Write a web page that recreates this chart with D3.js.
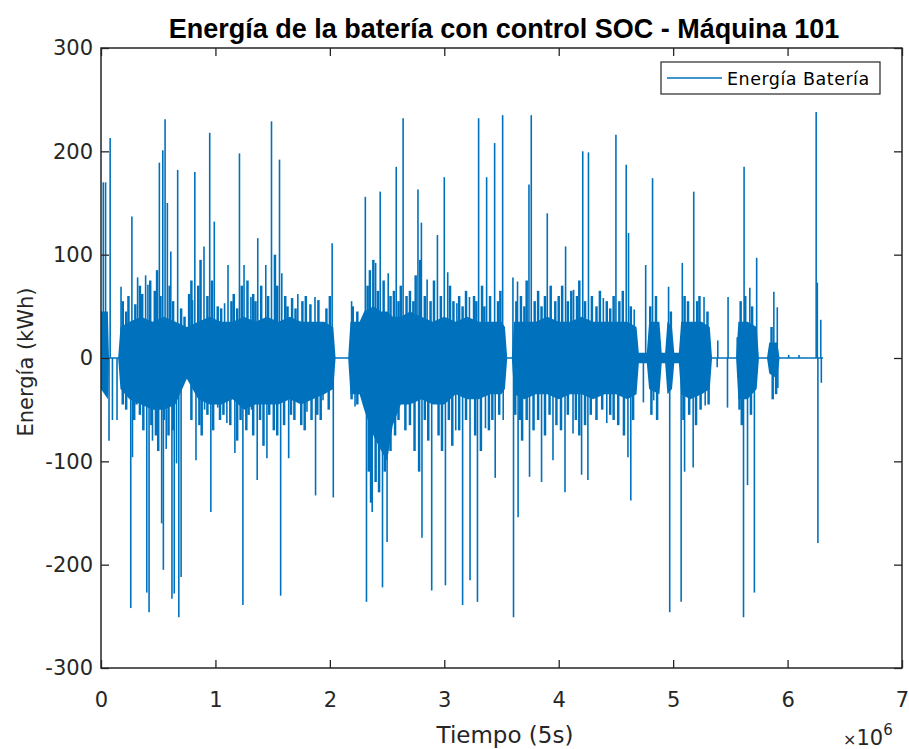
<!DOCTYPE html>
<html>
<head>
<meta charset="utf-8">
<script src="https://cdn.jsdelivr.net/npm/d3@7"></script>
<style>
  body { margin: 0; background: #fff; }
</style>
</head>
<body>
<div id="chart"></div>
<script>
// dense core of the signal: time (x10^6) with upper / lower envelope (kWh)
const bandT = [0.00, 0.06, 0.07, 0.15, 0.17, 0.25, 0.35, 0.45, 0.55, 0.65, 0.75, 0.85, 0.95, 1.05, 1.15, 1.25, 1.35, 1.45, 1.55, 1.65, 1.75, 1.85, 1.95, 2.03, 2.05, 2.16, 2.18, 2.26, 2.30, 2.38, 2.45, 2.50, 2.55, 2.62, 2.70, 2.80, 2.90, 3.00, 3.10, 3.20, 3.30, 3.40, 3.50, 3.53, 3.55, 3.59, 3.61, 3.70, 3.80, 3.90, 4.00, 4.10, 4.20, 4.30, 4.40, 4.50, 4.60, 4.68, 4.70, 4.77, 4.79, 4.88, 4.90, 4.93, 4.95, 4.99, 5.01, 5.05, 5.07, 5.15, 5.25, 5.32, 5.34, 5.55, 5.57, 5.65, 5.73, 5.75, 5.82, 5.84, 5.91, 5.93, 6.31]
const bandHi = [45, 45, 0, 0, 30, 35, 40, 35, 40, 35, 30, 35, 40, 35, 35, 40, 35, 40, 35, 40, 35, 35, 35, 30, 0, 0, 35, 35, 45, 50, 45, 45, 40, 40, 45, 40, 35, 40, 35, 40, 35, 35, 35, 30, 0, 0, 35, 35, 35, 40, 35, 35, 40, 35, 35, 35, 35, 30, 5, 5, 35, 35, 5, 5, 35, 30, 5, 5, 35, 35, 35, 30, 0, 0, 35, 35, 30, 0, 0, 15, 15, 0, 0]
const bandLo = [-30, -40, 0, 0, -30, -40, -45, -50, -50, -45, -20, -40, -45, -45, -40, -50, -45, -45, -45, -40, -45, -40, -35, -30, 0, 0, -35, -35, -50, -75, -90, -100, -65, -45, -45, -40, -45, -45, -35, -40, -40, -35, -35, -30, 0, 0, -35, -40, -35, -35, -40, -35, -35, -40, -35, -35, -40, -35, -5, -5, -30, -35, -5, -5, -35, -30, -5, -5, -35, -40, -35, -30, 0, 0, -40, -40, -30, 0, 0, -15, -20, 0, 0]

// ragged edge of the dense part
const ridgeT = [0.19, 0.22, 0.24, 0.30, 0.34, 0.36, 0.43, 0.47, 0.49, 0.52, 0.60, 0.63, 0.70, 0.73, 0.77, 0.79, 0.85, 0.87, 0.93, 0.97, 1.02, 1.05, 1.14, 1.16, 1.19, 1.23, 1.28, 1.33, 1.35, 1.40, 1.46, 1.52, 1.54, 1.61, 1.63, 1.67, 1.70, 1.76, 1.79, 1.83, 1.90, 1.97, 2.00, 2.20, 2.24, 2.33, 2.35, 2.38, 2.42, 2.47, 2.53, 2.56, 2.60, 2.62, 2.67, 2.70, 2.73, 2.75, 2.79, 2.83, 2.88, 2.91, 2.97, 3.05, 3.08, 3.13, 3.16, 3.19, 3.26, 3.28, 3.33, 3.35, 3.40, 3.47, 3.49, 3.63, 3.67, 3.70, 3.72, 3.79, 3.82, 3.85, 3.88, 3.93, 3.97, 4.00, 4.03, 4.08, 4.11, 4.16, 4.18, 4.23, 4.29, 4.33, 4.36, 4.42, 4.45, 4.48, 4.53, 4.56, 4.63, 4.80, 4.85, 4.98, 5.10, 5.13, 5.21, 5.23, 5.30, 5.59, 5.63, 5.69, 5.86]
const ridgeV = [55, 45, 60, 52, 70, 62, 75, 65, 85, 60, 70, 55, 48, 40, 62, 75, 70, 95, 60, 75, 50, 48, 55, 62, 48, 70, 75, 62, 55, 70, 60, 100, 70, 60, 50, 58, 48, 55, 60, 52, 56, 48, 60, 50, 45, 70, 85, 95, 65, 75, 60, 65, 55, 70, 60, 65, 55, 80, 95, 60, 55, 75, 60, 70, 55, 60, 50, 65, 60, 55, 70, 50, 60, 55, 65, 55, 60, 50, 75, 55, 65, 50, 60, 70, 55, 60, 70, 55, 65, 60, 75, 55, 60, 50, 65, 55, 48, 60, 55, 65, 50, 50, 60, 45, 60, 55, 55, 60, 45, 55, 60, 50, 30]
const troughT = [0.19, 0.22, 0.29, 0.31, 0.34, 0.37, 0.44, 0.48, 0.50, 0.55, 0.59, 0.63, 0.72, 0.79, 0.86, 0.88, 0.93, 0.98, 1.04, 1.07, 1.13, 1.19, 1.22, 1.27, 1.29, 1.33, 1.39, 1.42, 1.47, 1.51, 1.54, 1.60, 1.66, 1.69, 1.75, 1.78, 1.84, 1.89, 1.92, 1.99, 2.19, 2.24, 2.34, 2.36, 2.40, 2.43, 2.48, 2.53, 2.57, 2.60, 2.66, 2.70, 2.74, 2.78, 2.83, 2.86, 2.95, 2.98, 3.04, 3.07, 3.13, 3.19, 3.27, 3.32, 3.39, 3.42, 3.48, 3.62, 3.66, 3.68, 3.72, 3.78, 3.82, 3.88, 3.92, 3.98, 4.02, 4.08, 4.15, 4.18, 4.23, 4.28, 4.33, 4.38, 4.45, 4.48, 4.52, 4.57, 4.65, 4.81, 4.86, 5.09, 5.14, 5.20, 5.24, 5.31, 5.58, 5.60, 5.68, 5.87, 5.90]
const troughV = [-45, -50, -60, -45, -55, -70, -65, -75, -90, -60, -75, -70, -20, -60, -65, -75, -55, -70, -60, -55, -65, -80, -60, -70, -55, -75, -60, -85, -55, -70, -75, -65, -55, -60, -65, -70, -60, -55, -60, -50, -40, -45, -110, -140, -120, -130, -110, -90, -75, -60, -70, -65, -90, -110, -60, -80, -75, -90, -60, -85, -70, -60, -75, -90, -70, -60, -55, -55, -60, -80, -60, -70, -60, -75, -55, -65, -70, -55, -60, -75, -65, -55, -60, -50, -55, -60, -65, -75, -60, -55, -60, -60, -55, -65, -50, -45, -50, -65, -55, -40, -35]

// big positive peaks
const peakT = [0.02, 0.04, 0.08, 0.175, 0.27, 0.32, 0.39, 0.41, 0.51, 0.54, 0.56, 0.58, 0.61, 0.67, 0.80, 0.82, 0.90, 0.95, 0.99, 1.08, 1.11, 1.21, 1.25, 1.31, 1.37, 1.44, 1.49, 1.56, 1.58, 1.72, 1.87, 2.02, 2.19, 2.31, 2.40, 2.44, 2.51, 2.58, 2.64, 2.77, 2.80, 2.85, 2.94, 3.00, 3.03, 3.11, 3.22, 3.30, 3.37, 3.44, 3.51, 3.60, 3.64, 3.74, 3.76, 3.90, 4.06, 4.13, 4.21, 4.26, 4.39, 4.50, 4.59, 4.61, 4.66, 4.76, 4.82, 4.96, 5.08, 5.18, 5.27, 5.39, 5.48, 5.56, 5.62, 5.67, 5.73, 5.84, 5.88, 5.91, 6.01, 6.10, 6.25, 6.26, 6.29]
const peakV = [170, 170, 213, 69, 137, 78, 80, 71, 189, 201, 231, 150, 103, 182, 56, 180, 108, 218, 132, 53, 90, 198, 90, 59, 116, 90, 229, 192, 82, 62, 59, 111, 55, 156, 92, 161, 82, 185, 232, 163, 131, 76, 119, 175, 83, 53, 59, 232, 175, 208, 235, 78, 74, 168, 235, 140, 108, 66, 200, 199, 58, 216, 187, 121, 47, 90, 174, 69, 92, 161, 59, 17, 59, 20, 185, 68, 97, 8, 64, 49, 3, 3, 238, 73, 37]

// big negative peaks
const dipT = [0.07, 0.10, 0.14, 0.26, 0.275, 0.40, 0.42, 0.45, 0.53, 0.545, 0.57, 0.62, 0.64, 0.66, 0.68, 0.70, 0.83, 0.905, 0.96, 1.02, 1.10, 1.17, 1.24, 1.315, 1.365, 1.45, 1.57, 1.64, 1.72, 1.80, 1.875, 1.94, 2.03, 2.22, 2.32, 2.37, 2.46, 2.50, 2.805, 2.89, 3.01, 3.10, 3.16, 3.225, 3.29, 3.36, 3.445, 3.515, 3.605, 3.645, 3.745, 3.85, 3.95, 4.055, 4.125, 4.20, 4.255, 4.42, 4.605, 4.63, 4.74, 4.83, 4.97, 5.07, 5.10, 5.175, 5.28, 5.385, 5.475, 5.565, 5.615, 5.65, 5.71, 5.915, 6.265, 6.295]
const dipV = [-80, -60, -60, -242, -96, -227, -246, -80, -160, -205, -88, -233, -228, -102, -251, -212, -99, -50, -149, -48, -63, -92, -239, -50, -118, -97, -230, -97, -41, -52, -133, -41, -135, -47, -236, -149, -222, -178, -174, -225, -220, -70, -239, -215, -236, -68, -116, -60, -251, -154, -115, -120, -99, -130, -73, -113, -118, -63, -96, -138, -43, -41, -246, -236, -110, -106, -46, -9, -48, -19, -251, -123, -227, -29, -179, -24]

const xTicks = [0, 1, 2, 3, 4, 5, 6, 7]
const yTicks = [-300, -200, -100, 0, 100, 200, 300]
const tEnd = 6.31

const blue = '#0072BD'
const ink = '#262626'

const margin = { top: 48, left: 101, right: 7, bottom: 81 }
const width = 909 - margin.left - margin.right
const height = 749 - margin.top - margin.bottom

const svg = d3
  .select('#chart')
  .append('svg')
  .attr('width', 909)
  .attr('height', 749)

const g = svg
  .append('g')
  .attr('transform', 'translate(' + margin.left + ',' + margin.top + ')')

const xPositionScale = d3.scaleLinear().domain([0, 7]).range([0, width])
const yPositionScale = d3.scaleLinear().domain([-300, 300]).range([height, 0])

const band = bandT.map((t, i) => ({ t: t, hi: bandHi[i], lo: bandLo[i] }))
const ragged = ridgeT.map((t, i) => ({ t: t, v: ridgeV[i] }))
  .concat(troughT.map((t, i) => ({ t: t, v: troughV[i] })))
const peaks = peakT.map((t, i) => ({ t: t, v: peakV[i] }))
  .concat(dipT.map((t, i) => ({ t: t, v: dipV[i] })))

const area = d3
  .area()
  .x(d => xPositionScale(d.t))
  .y0(d => yPositionScale(d.lo))
  .y1(d => yPositionScale(d.hi))

g.append('line')
  .attr('x1', xPositionScale(0))
  .attr('x2', xPositionScale(tEnd))
  .attr('y1', yPositionScale(0))
  .attr('y2', yPositionScale(0))
  .attr('stroke', blue)
  .attr('stroke-width', 1.5)

g.append('path')
  .datum(band)
  .attr('d', area)
  .attr('fill', blue)

g.selectAll('.ridge')
  .data(ragged)
  .enter()
  .append('line')
  .attr('class', 'ridge')
  .attr('x1', d => xPositionScale(d.t))
  .attr('x2', d => xPositionScale(d.t))
  .attr('y1', yPositionScale(0))
  .attr('y2', d => yPositionScale(d.v))
  .attr('stroke', blue)
  .attr('stroke-width', 2.5)

g.selectAll('.spike')
  .data(peaks)
  .enter()
  .append('line')
  .attr('class', 'spike')
  .attr('x1', d => xPositionScale(d.t))
  .attr('x2', d => xPositionScale(d.t))
  .attr('y1', yPositionScale(0))
  .attr('y2', d => yPositionScale(d.v))
  .attr('stroke', blue)
  .attr('stroke-width', 1.6)

// axes, MATLAB style: box with inward ticks on all sides
const font = 'DejaVu Sans, sans-serif'

const xAxis = d3.axisBottom(xPositionScale).tickValues(xTicks).tickFormat(d3.format('d'))
  .tickSizeInner(-8).tickSizeOuter(0).tickPadding(24)
const yAxis = d3.axisLeft(yPositionScale).tickValues(yTicks).tickFormat(d => String(d))
  .tickSizeInner(-8).tickSizeOuter(0).tickPadding(8)

g.append('g')
  .attr('class', 'axis x-axis')
  .attr('transform', 'translate(0,' + height + ')')
  .call(xAxis)
g.append('g')
  .attr('class', 'axis y-axis')
  .call(yAxis)
g.append('g')
  .attr('class', 'axis')
  .call(d3.axisTop(xPositionScale).tickValues(xTicks).tickSizeInner(-8).tickSizeOuter(0).tickFormat(''))
g.append('g')
  .attr('class', 'axis')
  .attr('transform', 'translate(' + width + ',0)')
  .call(d3.axisRight(yPositionScale).tickValues(yTicks).tickSizeInner(-8).tickSizeOuter(0).tickFormat(''))

g.selectAll('.axis path').remove()
g.selectAll('.axis line').attr('stroke', ink).attr('stroke-width', 1.3)
g.selectAll('.axis text')
  .attr('font-family', font)
  .attr('font-size', 21)
  .attr('fill', ink)
g.selectAll('.x-axis text').attr('dy', '0.71em')

g.append('rect')
  .attr('width', width)
  .attr('height', height)
  .attr('fill', 'none')
  .attr('stroke', ink)
  .attr('stroke-width', 1.5)

// labels
svg.append('text')
  .text('Energía de la batería con control SOC - Máquina 101')
  .attr('x', 504)
  .attr('y', 38)
  .attr('text-anchor', 'middle')
  .attr('font-family', 'Liberation Sans, Arial, sans-serif')
  .attr('font-weight', 'bold')
  .attr('font-size', 27)
  .attr('fill', '#000')

svg.append('text')
  .text('Tiempo (5s)')
  .attr('x', 505)
  .attr('y', 743)
  .attr('text-anchor', 'middle')
  .attr('font-family', font)
  .attr('font-size', 23)
  .attr('fill', ink)

svg.append('text')
  .text('Energía (kWh)')
  .attr('transform', 'translate(33,362) rotate(-90)')
  .attr('text-anchor', 'middle')
  .attr('font-family', font)
  .attr('font-size', 21)
  .attr('fill', ink)

const expo = svg.append('text')
  .attr('x', 843)
  .attr('y', 745)
  .attr('font-family', font)
  .attr('font-size', 21)
  .attr('fill', ink)
expo.append('tspan').text('×').attr('font-size', 16)
expo.append('tspan').text('10')
expo.append('tspan').text('6').attr('font-size', 15).attr('dy', -10)

// legend
const legend = svg.append('g').attr('transform', 'translate(661,62)')
legend.append('rect')
  .attr('width', 219)
  .attr('height', 32)
  .attr('fill', '#fff')
  .attr('stroke', ink)
  .attr('stroke-width', 1.2)
legend.append('line')
  .attr('x1', 6)
  .attr('x2', 61)
  .attr('y1', 16)
  .attr('y2', 16)
  .attr('stroke', blue)
  .attr('stroke-width', 1.6)
legend.append('text')
  .text('Energía Batería')
  .attr('x', 66)
  .attr('y', 23)
  .attr('font-family', font)
  .attr('font-size', 17.5)
  .attr('letter-spacing', 0.5)
  .attr('fill', '#000')
</script>
</body>
</html>
